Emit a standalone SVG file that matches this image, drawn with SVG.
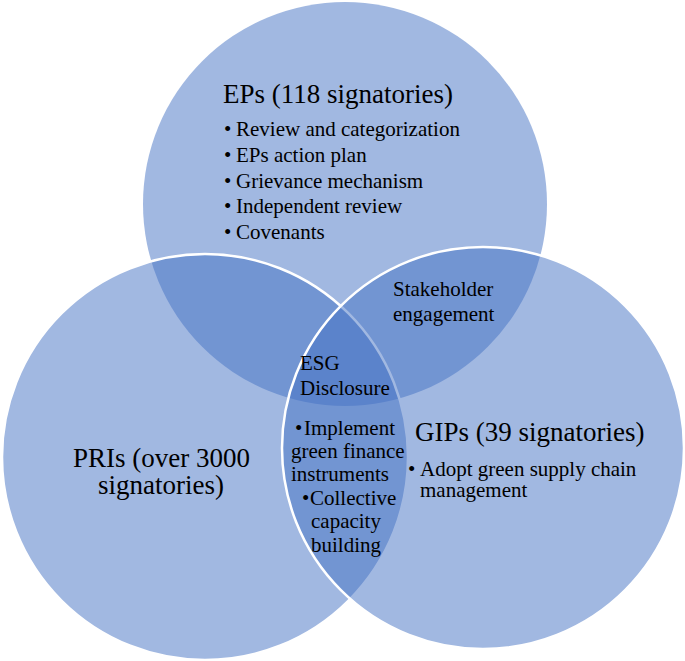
<svg xmlns="http://www.w3.org/2000/svg" width="685" height="661" viewBox="0 0 685 661">
<style>
.c{fill:#4472C4;fill-opacity:0.5}
.s{stroke:#FFFFFF;stroke-width:2.5}
text{font-family:"Liberation Serif","Times New Roman",serif;fill:#000}
.big{font-size:27px}
.sm{font-size:21px}
</style>
<rect width="685" height="661" fill="#FFFFFF"/>
<g id="eps">
<circle class="c" cx="345" cy="204" r="202"/>
</g>
<g id="pris">
<circle class="c s" cx="205" cy="457" r="203"/>
</g>
<g id="gips">
<circle class="c s" cx="483" cy="448" r="201"/>
</g>
<g id="eps-text">
<text class="big" x="223" y="103">EPs (118 signatories)</text>
<text class="sm"><tspan x="224" y="136">•</tspan><tspan x="236" y="136">Review and categorization</tspan><tspan x="224" y="162">•</tspan><tspan x="236" y="162">EPs action plan</tspan><tspan x="224" y="188">•</tspan><tspan x="236" y="188">Grievance mechanism</tspan><tspan x="224" y="213">•</tspan><tspan x="236" y="213">Independent review</tspan><tspan x="224" y="239">•</tspan><tspan x="236" y="239">Covenants</tspan></text>
</g>
<g id="pris-text">
<text class="big"><tspan x="73" y="467">PRIs (over 3000</tspan><tspan x="98" y="494">signatories)</tspan></text>
</g>
<g id="gips-text">
<text class="big" x="415" y="441">GIPs (39 signatories)</text>
<text class="sm"><tspan x="408" y="476">•</tspan><tspan x="420" y="476">Adopt green supply chain</tspan><tspan x="420" y="497">management</tspan></text>
</g>
<g id="stakeholder">
<text class="sm"><tspan x="393" y="296">Stakeholder</tspan><tspan x="393" y="321">engagement</tspan></text>
</g>
<g id="esg">
<text class="sm"><tspan x="300" y="370">ESG</tspan><tspan x="300" y="395">Disclosure</tspan></text>
</g>
<g id="pri-gip">
<text class="sm"><tspan x="295" y="435">•</tspan><tspan x="304" y="435">Implement</tspan><tspan x="291" y="458">green finance</tspan><tspan x="291" y="481">instruments</tspan><tspan x="302" y="505">•</tspan><tspan x="310" y="505">Collective</tspan><tspan x="311" y="528">capacity</tspan><tspan x="311" y="552">building</tspan></text>
</g>
<g id="connectors"></g>
</svg>
